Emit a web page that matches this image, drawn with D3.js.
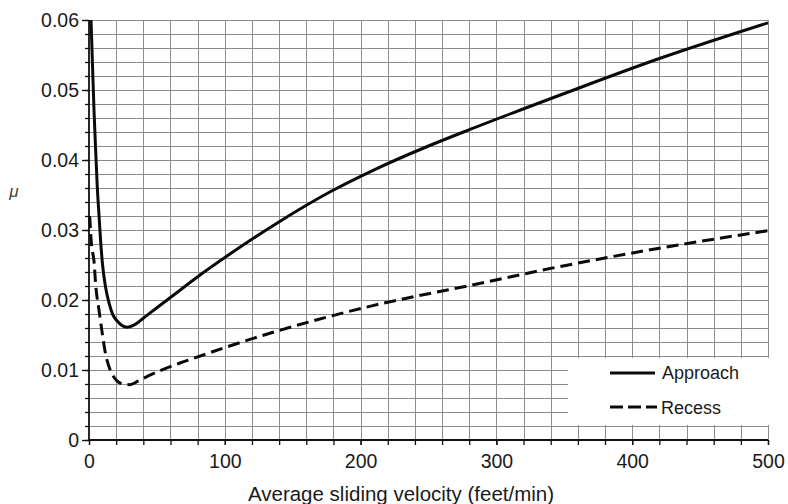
<!DOCTYPE html>
<html>
<head>
<meta charset="utf-8">
<script src="https://cdn.jsdelivr.net/npm/d3@7"></script>
<style>
  html, body { margin: 0; padding: 0; background: #fff; }
  svg { display: block; font-family: "Liberation Sans", Arial, Helvetica, sans-serif; }
</style>
</head>
<body>
<svg id="chart" width="788" height="504"></svg>
<script>
// ---- data ----
const approachV  = [1.5, 2.5, 3.7, 5, 6, 7.4, 8.6, 10, 12.3, 15, 17.5, 20.8, 24, 28, 33, 40, 50, 67, 82, 104, 141, 178, 210, 250, 281, 350, 420, 500];
const approachMu = [0.060, 0.054, 0.047, 0.041, 0.0365, 0.032, 0.0283, 0.0250, 0.0217, 0.0194, 0.0179, 0.0170, 0.0164, 0.0161, 0.0164, 0.0174, 0.0189, 0.0214, 0.0236, 0.0266, 0.0313, 0.0355, 0.0386, 0.0420, 0.0444, 0.0495, 0.0545, 0.0596];
const recessV  = [0.5, 1.8, 3.7, 5, 7.4, 9.8, 12.3, 14.7, 17, 20.8, 25, 30, 36, 40, 67, 79, 100, 141, 209, 281, 350, 420, 500];
const recessMu = [0.032, 0.028, 0.0255, 0.022, 0.0185, 0.0152, 0.0122, 0.0105, 0.0094, 0.0084, 0.0080, 0.0079, 0.0084, 0.0088, 0.0110, 0.0118, 0.0132, 0.0157, 0.0192, 0.0221, 0.0249, 0.0274, 0.0299];
const xTicks = [0, 100, 200, 300, 400, 500];
const yTicks = [0, 0.01, 0.02, 0.03, 0.04, 0.05, 0.06];
const yTickLabels = ["0", "0.01", "0.02", "0.03", "0.04", "0.05", "0.06"];
const seriesNames = ["Approach", "Recess"];

// ---- chart ----
const svg = d3.select("#chart");
const x = d3.scaleLinear().domain([0, 500]).range([89, 768]);
const y = d3.scaleLinear().domain([0, 0.06]).range([440, 20]);

const xMinor = d3.range(0, 501, 20);
const yMinor = d3.range(0, 0.0601, 0.002).map(v => +v.toFixed(3));

// grid
const grid = svg.append("g").attr("stroke", "#8c8c8c").attr("stroke-width", 1).attr("shape-rendering", "crispEdges");
grid.selectAll("line.v").data(xMinor.filter(d => d > 0)).join("line")
  .attr("x1", d => Math.round(x(d)) + 0.5).attr("x2", d => Math.round(x(d)) + 0.5)
  .attr("y1", y(0)).attr("y2", y(0.06));
grid.selectAll("line.h").data(yMinor.filter(d => d > 0)).join("line")
  .attr("y1", d => Math.round(y(d)) + 0.5).attr("y2", d => Math.round(y(d)) + 0.5)
  .attr("x1", x(0)).attr("x2", x(500));

// legend background (blanks part of the grid)
svg.append("rect").attr("x", 568).attr("y", 358).attr("width", 205).attr("height", 67).attr("fill", "#fff");

// axes
const fmt = d => yTickLabels[yTicks.indexOf(d)];
const yAxisMinor = svg.append("g").attr("transform", `translate(${x(0)},0)`)
  .call(d3.axisLeft(y).tickValues(yMinor).tickSize(4).tickFormat(""));
yAxisMinor.select(".domain").remove();
const yAxis = svg.append("g").attr("transform", `translate(${x(0)},0)`)
  .call(d3.axisLeft(y).tickValues(yTicks).tickSize(7).tickPadding(3).tickFormat(fmt));
const xAxisMinor = svg.append("g").attr("transform", `translate(0,${y(0)})`)
  .call(d3.axisBottom(x).tickValues(xMinor).tickSize(5).tickFormat(""));
xAxisMinor.select(".domain").remove();
const xAxis = svg.append("g").attr("transform", `translate(0,${y(0)})`)
  .call(d3.axisBottom(x).tickValues(xTicks).tickSize(5).tickPadding(9));

[yAxis, xAxis, yAxisMinor, xAxisMinor].forEach(g => {
  g.selectAll("line").attr("stroke", "#111").attr("stroke-width", 1.3);
  g.selectAll(".domain").attr("stroke", "#111").attr("stroke-width", 1.8);
  g.selectAll("text").attr("font-size", 19.5).attr("fill", "#1a1a1a")
    .attr("font-family", "'Liberation Sans', Arial, sans-serif");
});
yAxis.select(".domain").attr("d", `M0,${y(0.06)}V${y(0)}`);
xAxis.select(".domain").attr("d", `M${x(0)},0H${x(500)}`);

// curves
const line = d3.line().x(d => x(d[0])).y(d => y(d[1])).curve(d3.curveMonotoneX);
const approach = approachV.map((v, i) => [v, approachMu[i]]);
const recess = recessV.map((v, i) => [v, recessMu[i]]);
svg.append("path").datum(approach).attr("d", line)
  .attr("fill", "none").attr("stroke", "#0a0a0a").attr("stroke-width", 3);
svg.append("path").datum(recess).attr("d", line)
  .attr("fill", "none").attr("stroke", "#0a0a0a").attr("stroke-width", 3)
  .attr("stroke-dasharray", "12,6");

// legend
const lg = svg.append("g");
lg.append("line").attr("x1", 610).attr("x2", 655).attr("y1", 373).attr("y2", 373)
  .attr("stroke", "#0a0a0a").attr("stroke-width", 3);
lg.append("text").attr("x", 662).attr("y", 373).attr("dy", "0.35em")
  .attr("font-size", 18).attr("fill", "#1a1a1a").text(seriesNames[0]);
lg.append("line").attr("x1", 610).attr("x2", 657).attr("y1", 407).attr("y2", 407)
  .attr("stroke", "#0a0a0a").attr("stroke-width", 3).attr("stroke-dasharray", "13,5");
lg.append("text").attr("x", 661).attr("y", 408).attr("dy", "0.35em")
  .attr("font-size", 18).attr("fill", "#1a1a1a").text(seriesNames[1]);

// axis titles
svg.append("text").attr("x", 401).attr("y", 501).attr("text-anchor", "middle")
  .attr("font-size", 20.5).attr("fill", "#1a1a1a").text("Average sliding velocity (feet/min)");
svg.append("text").attr("x", 14).attr("y", 197).attr("text-anchor", "middle")
  .attr("font-size", 17).attr("font-style", "italic").attr("fill", "#444").text("μ");
</script>
</body>
</html>
